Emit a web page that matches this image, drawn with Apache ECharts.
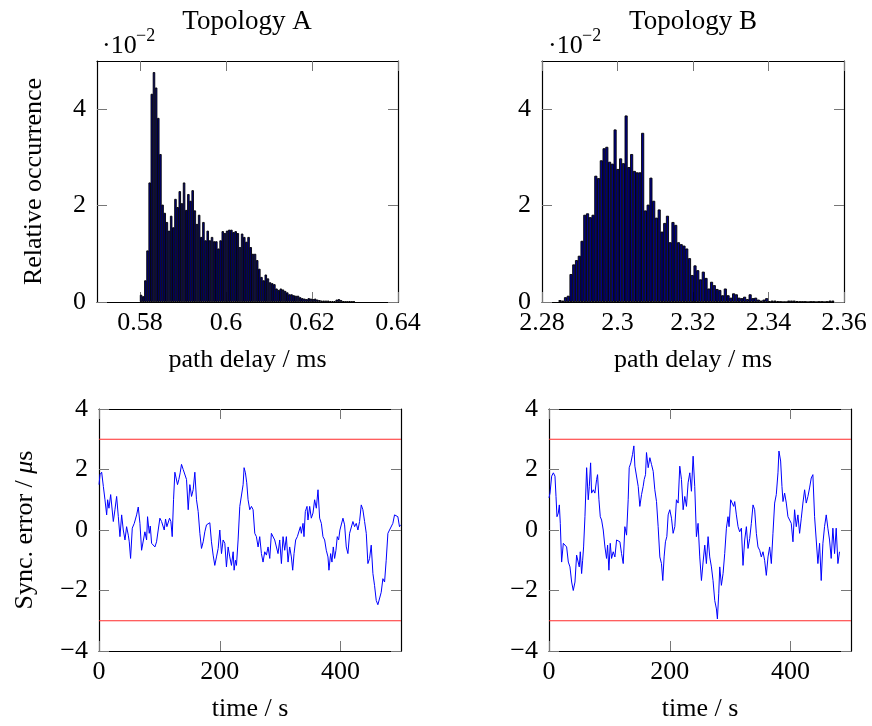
<!DOCTYPE html>
<html>
<head>
<meta charset="utf-8">
<script src="https://cdn.jsdelivr.net/npm/echarts@6/dist/echarts.min.js"></script>
<style>
html, body { margin: 0; padding: 0; background: #fff; }
#chart { width: 872px; height: 726px; }
</style>
</head>
<body>
<div id="chart"></div>
<script>
// histogram bins, relative occurrence in units of 1e-2
const binStartA = 0.58
const binWidthA = 0.0005
const occurrenceA = [
  0.15, 0.12, 0.45, 1.07, 2.48, 4.32, 4.77, 4.45, 3.82, 3.07,
  2.02, 1.85, 1.66, 1.48, 1.79, 1.55, 2.14, 1.97, 2.30, 2.05,
  2.48, 1.91, 2.24, 2.10, 2.32, 1.90, 1.62, 1.81, 1.35, 1.66,
  1.28, 1.48, 1.28, 1.35, 1.26, 1.26, 1.11, 1.28, 1.47, 1.43,
  1.48, 1.50, 1.50, 1.45, 1.47, 1.43, 1.14, 1.42, 1.35, 1.25,
  1.35, 1.14, 1.00, 1.00, 0.87, 0.69, 0.52, 0.45, 0.57, 0.49,
  0.41, 0.39, 0.37, 0.28, 0.25, 0.28, 0.26, 0.23, 0.20, 0.16,
  0.16, 0.14, 0.13, 0.13, 0.10, 0.08, 0.07, 0.06, 0.08, 0.07,
  0.06, 0.07, 0.05, 0.04, 0.03, 0.03, 0.03, 0.03, 0.02, 0.02,
  0.02, 0.05, 0.06, 0.04, 0.02, 0.01, 0.01, 0.02, 0.01, 0.01
]
const binStartB = 2.2844
const binWidthB = 0.00073
const occurrenceB = [
  0.04, 0.03, 0.10, 0.13, 0.58, 0.78, 0.87, 0.96, 1.27, 1.81,
  1.84, 1.76, 1.81, 2.62, 2.57, 2.94, 3.19, 3.22, 2.91, 2.87,
  3.58, 2.76, 2.98, 2.88, 3.87, 2.80, 3.07, 2.72, 2.69, 2.69,
  3.51, 1.90, 2.02, 2.58, 2.10, 1.75, 1.92, 1.46, 1.64, 1.79,
  1.24, 1.66, 1.60, 1.24, 1.20, 1.17, 1.11, 0.91, 0.56, 0.76,
  0.66, 0.47, 0.63, 0.50, 0.28, 0.42, 0.35, 0.27, 0.25, 0.14,
  0.28, 0.14, 0.09, 0.18, 0.16, 0.09, 0.08, 0.11, 0.06, 0.16,
  0.08, 0.09, 0.05, 0.03, 0.05, 0.08, 0.02, 0.03, 0.03, 0.02,
  0.01, 0, 0, 0.03, 0.03, 0.03, 0.02, 0.01, 0.01, 0.01,
  0, 0.01, 0.01, 0, 0.01, 0.01, 0, 0.01, 0.03, 0.03
]

// sync error traces (time in s, error in us)
const timeA = [
  0, 1.7, 4.4, 7.2, 9.9, 12.7, 14.3, 16.5, 19.3, 22.0,
  23.7, 26.4, 29.2, 32.0, 34.7, 37.5, 40.2, 43.0, 45.7, 48.5,
  50.1, 52.3, 55.1, 58.4, 62.3, 65.0, 67.8, 70.5, 73.3, 76.0,
  78.8, 80.4, 83.2, 84.9, 87.1, 89.8, 92.6, 95.3, 98.1, 100.8,
  103.6, 106.3, 108.0, 110.2, 112.4, 114.6, 116.8, 119.0, 121.2, 123.4,
  125.6, 127.8, 130.0, 132.2, 134.4, 136.6, 139.4, 142.2, 144.9, 147.7,
  150.4, 153.2, 155.9, 158.7, 161.4, 164.2, 167.0, 169.7, 172.5, 175.2,
  178.0, 180.7, 183.5, 186.2, 189.0, 191.7, 194.5, 197.3, 200.0, 202.8,
  205.5, 208.3, 211.0, 213.8, 216.5, 219.3, 222.1, 223.7, 225.9, 227.6,
  230.3, 233.1, 235.8, 238.6, 240.2, 242.4, 244.6, 246.8, 249.6, 252.4,
  255.1, 257.9, 260.6, 263.4, 266.1, 268.9, 271.6, 274.4, 277.2, 279.9,
  282.7, 285.4, 288.2, 290.9, 293.7, 296.4, 299.2, 302.0, 304.7, 307.5,
  310.2, 313.0, 315.7, 318.5, 320.7, 322.9, 325.6, 328.4, 330.6, 333.4,
  335.0, 337.8, 339.4, 341.6, 344.4, 346.0, 348.8, 351.5, 354.3, 357.0,
  359.8, 362.6, 365.3, 368.1, 370.8, 373.6, 376.3, 379.1, 380.7, 383.5,
  385.7, 387.9, 390.1, 392.3, 394.5, 396.7, 398.9, 401.1, 403.9, 406.6,
  409.4, 412.1, 414.9, 417.7, 420.4, 423.2, 425.9, 428.7, 431.4, 434.2,
  436.9, 439.7, 442.5, 445.2, 448.0, 450.7, 453.5, 456.2, 459.0, 461.7,
  464.5, 467.2, 470.0, 472.8, 475.5, 478.3, 481.0, 483.8, 486.5, 489.3,
  492.0, 494.8, 497.5, 499.2
]
const errorA = [
  1.50, 1.83, 1.91, 1.44, 1.00, 0.50, 1.00, 0.72, 1.17, 1.11,
  0.28, 0.67, 1.11, 0.44, -0.22, 0.50, 0, -0.33, 0.11, -0.17,
  -0.39, -0.94, 0.06, 0.22, 0.50, 0.76, 0.22, -0.67, -0.72, -0.06,
  -0.33, 0.44, -0.11, 0.13, -0.44, -0.39, -0.56, -0.39, -0.33, 0.39,
  0.28, 0.22, 0, 0.36, 0.11, 0.06, 0.39, 0.28, -0.22, 1.00,
  1.91, 1.94, 1.50, 1.67, 1.89, 2.17, 2.00, 2.06, 1.67, 0.67,
  1.50, 1.11, 1.33, 1.91, 1.00, 0.61, -0.11, -0.61, -0.39, -0.06,
  0.17, 0.11, 0.24, -0.39, -0.83, -1.17, -0.89, -0.61, 0, -0.78,
  -0.33, -0.44, -1.22, -0.56, -0.89, -1.17, -0.72, -1.33, -1.00, -1.17,
  -0.33, 0.78, 0.83, 1.50, 2.06, 1.89, 1.56, 1.00, 0.67, 0.78,
  0.67, -0.11, -0.22, -0.56, -0.22, -0.78, -1.06, -0.72, -0.83, -0.56,
  -0.94, -0.11, -0.06, -0.33, -0.28, -0.78, -0.33, -1.11, -0.22, -0.67,
  -0.22, -1.06, -0.56, -0.89, -1.33, -0.78, -0.33, -0.22, -0.17, 0.11,
  -0.11, 0.22, -0.22, 0.61, 0.78, 0.33, 0.78, 0.39, 0.56, 1.00,
  0.72, 1.33, 0.39, 0.22, -0.22, -0.33, -0.67, -0.89, -1.33, -0.78,
  -1.06, -0.56, -0.94, -0.67, -0.22, -0.33, 0, -0.06, 0.39, 0.17,
  -0.56, -0.78, -0.11, -0.06, 0.28, 0.11, 0.22, 0, 0.28, 0.83,
  0.67, 0.28, -0.11, -1.11, -0.94, -0.50, -1.44, -1.83, -2.33, -2.47,
  -2.53, -2.06, -1.61, -1.72, -1.00, -0.11, 0, -0.06, 0.22, 0.50,
  0.56, 0.44, 0.11, 0.17
]
const timeB = [
  0, 1.7, 4.4, 7.2, 9.9, 11.6, 13.2, 15.4, 17.1, 18.7,
  20.9, 23.7, 26.4, 29.2, 32.0, 34.7, 37.5, 40.2, 43.0, 45.7,
  48.5, 50.1, 51.8, 54.0, 55.7, 57.3, 59.5, 62.3, 65.0, 66.7,
  68.9, 70.5, 73.3, 76.0, 78.8, 80.4, 82.7, 84.9, 87.1, 89.8,
  92.6, 95.3, 97.0, 99.2, 101.4, 103.6, 106.3, 109.1, 111.9, 114.6,
  117.4, 120.1, 122.9, 125.6, 128.4, 131.1, 132.8, 135.5, 138.3, 140.5,
  142.2, 144.9, 147.7, 150.4, 153.2, 155.9, 157.6, 159.8, 161.4, 164.2,
  167.0, 169.7, 172.5, 175.2, 178.0, 180.7, 183.5, 186.2, 188.4, 190.6,
  192.8, 195.1, 197.3, 200.0, 202.8, 205.5, 208.3, 211.0, 213.8, 216.5,
  219.3, 222.1, 224.8, 227.6, 230.3, 233.1, 235.8, 238.6, 241.3, 244.1,
  246.8, 249.6, 252.4, 255.1, 257.9, 260.6, 263.4, 266.1, 268.9, 271.6,
  274.4, 277.2, 278.8, 281.0, 282.7, 285.4, 288.2, 290.9, 293.7, 296.4,
  298.1, 300.8, 303.0, 305.8, 307.5, 310.2, 313.0, 315.7, 318.5, 321.2,
  324.0, 326.8, 329.5, 332.3, 335.0, 337.8, 340.5, 343.3, 346.0, 348.8,
  351.5, 354.3, 357.0, 359.8, 362.6, 365.3, 368.1, 370.8, 373.6, 376.3,
  379.1, 380.7, 383.5, 385.7, 387.4, 390.1, 392.9, 395.6, 398.4, 401.1,
  403.9, 406.6, 409.4, 412.1, 414.9, 417.7, 420.4, 423.2, 425.9, 428.7,
  431.4, 434.2, 436.9, 439.7, 442.5, 445.2, 448.0, 450.7, 453.5, 456.2,
  459.0, 461.7, 464.5, 467.2, 470.0, 472.8, 475.5, 478.3, 481.0
]
const errorB = [
  1.06, 1.22, 1.78, 1.89, 1.78, 1.11, 0.44, 0.56, 0.83, 0.22,
  -1.06, -0.44, -0.39, -0.56, -1.06, -1.22, -1.72, -2.00, -1.72, -0.83,
  -0.78, -1.22, -0.72, -1.44, -1.00, -0.56, 0.44, 2.06, 1.00, 1.44,
  2.22, 1.22, 1.33, 1.22, 1.67, 1.83, 1.00, 0.44, 0.33, 0,
  -0.56, -0.94, -0.50, -1.33, -0.44, -0.94, -0.72, -0.89, -0.33, -0.28,
  -0.39, -0.78, -1.11, 0.11, -0.17, 1.00, 2.06, 2.22, 2.50, 2.78,
  2.11, 2.06, 1.44, 0.78, 1.17, 1.44, 1.67, 1.83, 2.56, 2.06,
  2.39, 2.17, 1.94, 1.33, 0.94, 0.11, -0.89, -1.11, -1.67, -0.89,
  -0.39, -0.22, 0.50, 0.67, 0.39, -0.11, 0.11, 1.00, 0.89, 2.11,
  1.67, 0.67, 1.11, 0.78, 1.56, 1.89, 1.28, 2.44, 1.44, -0.22,
  0.22, -0.89, -1.67, -1.06, -0.50, -1.11, -0.22, -0.89, -1.22, -1.67,
  -2.33, -2.61, -2.94, -2.11, -1.22, -1.83, -1.44, -0.78, 0.06, 0.44,
  0.11, 1.00, 1.00, 0.78, 0.94, 0.50, 0.11, -0.06, 0.06, -1.17,
  -0.33, 0.11, -0.61, -0.28, 0.22, 0.83, 0.67, -0.11, -0.56, -0.67,
  -0.89, -0.72, -1.00, -1.50, -0.89, -0.56, -1.11, -0.11, 0.89, 1.17,
  1.89, 2.61, 2.28, 1.44, 0.94, 1.22, 0.89, 0.44, 0.33, 0.22,
  -0.39, 0.67, 0.11, 0.50, -0.11, 0.39, 0.89, 1.33, 0.89, 1.11,
  1.39, 1.72, 1.83, 0.44, 0.50, -1.11, -0.44, -1.67, -0.44, 0.11,
  0.50, 0.06, -0.33, -0.94, 0.06, -0.78, 0.06, -1.11, -0.72
]

const syncLimits = [3, -3]
const timeRange = [0, 500]
const delayTicksA = [0.58, 0.6, 0.62, 0.64]
const delayTicksB = [2.28, 2.3, 2.32, 2.34, 2.36]
const occTicks = [0, 2, 4]
const timeTicks = [0, 200, 400]
const errTicks = [-4, -2, 0, 2, 4]

const FONT = "'Liberation Serif', 'DejaVu Serif', serif"
const FS = 26

function fmt(v) {
  return String(+Number(v).toFixed(4)).replace('-', '\u2212')
}

function hist(start, width, counts) {
  return counts.map((c, i) => [start + (i + 0.5) * width, c])
}

function zip(xs, ys) {
  return xs.map((x, i) => [x, ys[i]])
}

const lineCol = { color: '#000', width: 1.2 }
const tickStyle = { color: '#777', width: 1 }
const labelStyle = { color: '#000', fontSize: FS, fontFamily: FONT }

// one labelled axis plus a mirrored bare one, pgfplots box style
function xPair(grid, min, max, ticks, name) {
  const base = {
    type: 'value', gridIndex: grid, min, max,
    axisLine: { onZero: false, lineStyle: lineCol },
    axisTick: { inside: true, length: 10, lineStyle: tickStyle, customValues: ticks },
    splitLine: { show: false },
  }
  return [
    Object.assign({}, base, {
      position: 'bottom', name, nameLocation: 'middle', nameGap: 45,
      nameTextStyle: labelStyle,
      axisLabel: Object.assign({ customValues: ticks, formatter: fmt, margin: 8 }, labelStyle),
    }),
    Object.assign({}, base, { position: 'top', axisLabel: { show: false } }),
  ]
}

function yPair(grid, min, max, ticks, name, gap, rich) {
  const base = {
    type: 'value', gridIndex: grid, min, max,
    axisLine: { onZero: false, lineStyle: lineCol },
    axisTick: { inside: true, length: 10, lineStyle: tickStyle, customValues: ticks },
    splitLine: { show: false },
  }
  return [
    Object.assign({}, base, {
      position: 'left', name, nameLocation: 'middle', nameGap: gap,
      nameTextStyle: Object.assign({ rich: rich || {} }, labelStyle),
      axisLabel: Object.assign({ customValues: ticks, formatter: fmt, margin: 11 }, labelStyle),
    }),
    Object.assign({}, base, { position: 'right', axisLabel: { show: false } }),
  ]
}

const grids = [
  { left: 97, top: 61, width: 301, height: 241 },
  { left: 542, top: 61, width: 302, height: 241 },
  { left: 99, top: 409, width: 302, height: 242 },
  { left: 549, top: 409, width: 302, height: 242 },
].map(g => Object.assign({ outerBoundsMode: 'none' }, g))

const xAxis = [
  ...xPair(0, 0.57, 0.64, delayTicksA, 'path delay / ms'),
  ...xPair(1, 2.28, 2.36, delayTicksB, 'path delay / ms'),
  ...xPair(2, timeRange[0], timeRange[1], timeTicks, 'time / s'),
  ...xPair(3, timeRange[0], timeRange[1], timeTicks, 'time / s'),
]
const yAxis = [
  ...yPair(0, 0, 5, occTicks, 'Relative occurrence', 50),
  ...yPair(1, 0, 5, occTicks, '', 40),
  ...yPair(2, -4, 4, errTicks, 'Sync. error / {it|\u03bc}s', 61,
    { it: { fontStyle: 'italic', fontSize: FS, fontFamily: FONT, color: '#000' } }),
  ...yPair(3, -4, 4, errTicks, '', 40),
]

const barStyle = { color: '#00008c', borderColor: '#000', borderWidth: 0.9 }

// horizontal limit lines across the full time range
function limitSeries(axisIdx) {
  return syncLimits.map(v => ({
    type: 'line', xAxisIndex: axisIdx, yAxisIndex: axisIdx, silent: true,
    showSymbol: false, symbol: 'none', color: '#ff2a2a', z: 1,
    lineStyle: { color: '#ff2a2a', width: 1.2 },
    data: timeRange.map(t => [t, v]),
  }))
}

const series = [
  { type: 'bar', xAxisIndex: 0, yAxisIndex: 0, barWidth: 2.5, itemStyle: barStyle,
    data: hist(binStartA, binWidthA, occurrenceA) },
  { type: 'bar', xAxisIndex: 2, yAxisIndex: 2, barWidth: 3.1, itemStyle: barStyle,
    data: hist(binStartB, binWidthB, occurrenceB) },
  ...limitSeries(4),
  ...limitSeries(6),
  { type: 'line', xAxisIndex: 4, yAxisIndex: 4, showSymbol: false, symbol: 'none', color: '#0000ff', z: 2,
    lineStyle: { color: '#0000ff', width: 1 }, data: zip(timeA, errorA) },
  { type: 'line', xAxisIndex: 6, yAxisIndex: 6, showSymbol: false, symbol: 'none', color: '#0000ff', z: 2,
    lineStyle: { color: '#0000ff', width: 1 }, data: zip(timeB, errorB) },
]

function txt(x, y, text, size, align) {
  return { type: 'text', x, y, silent: true,
    style: { text, font: size + 'px ' + FONT, fill: '#000', align: align || 'left', verticalAlign: 'middle' } }
}

const graphic = [
  txt(247, 22, 'Topology A', 27, 'center'),
  txt(693, 22, 'Topology B', 27, 'center'),
  txt(102, 46, '\u00b710', FS),
  txt(136, 36, '\u22122', 18),
  txt(548, 46, '\u00b710', FS),
  txt(582, 36, '\u22122', 18),
]

const chart = echarts.init(document.getElementById('chart'), null, { renderer: 'canvas' })
chart.setOption({
  animation: false,
  backgroundColor: '#fff',
  textStyle: { fontFamily: FONT },
  grid: grids,
  xAxis,
  yAxis,
  series,
  graphic,
})
</script>
</body>
</html>
